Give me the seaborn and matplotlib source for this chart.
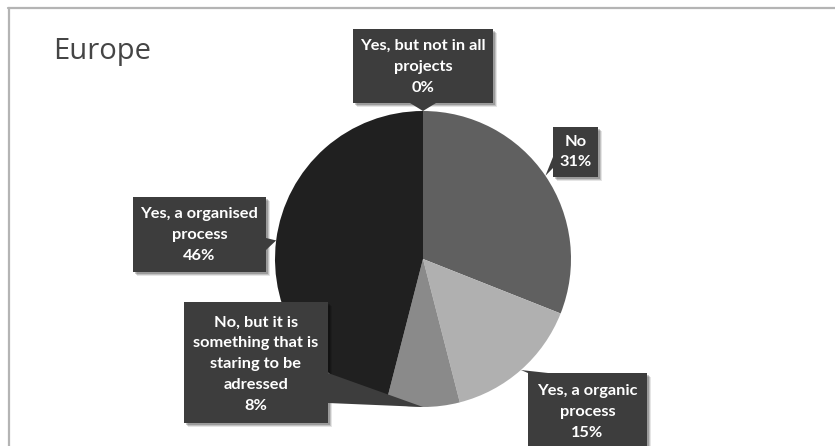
import numpy as np
import matplotlib
matplotlib.use("Agg")
import matplotlib.pyplot as plt
from matplotlib.patches import Polygon
from matplotlib.lines import Line2D
import seaborn as sns

# Survey answers, clockwise from 12 o'clock
categories = [
    "Yes, but not in all\nprojects",
    "No",
    "Yes, a organic\nprocess",
    "No, but it is\nsomething that is\nstaring to be\nadressed",
    "Yes, a organised\nprocess",
]
shares = [0, 31, 15, 8, 46]
slice_colors = ["#9a9a9a", "#606060", "#b0b0b0", "#8a8a8a", "#202020"]

sns.set_style("white")
plt.rcParams["font.family"] = ["Lato", "DejaVu Sans"]

W, H = 835, 446
fig = plt.figure(figsize=(W / 100, H / 100), dpi=100)
ax = fig.add_axes([0, 0, 1, 1])
ax.set_xlim(0, W)
ax.set_ylim(0, H)
ax.set_aspect("equal")
ax.axis("off")

cx, cy, r = 423, H - 259, 148
palette = sns.color_palette(slice_colors)
ax.pie(shares, colors=palette, startangle=90, counterclock=False,
       center=(cx, cy), radius=r, frame=False,
       wedgeprops=dict(linewidth=0))
ax.set_xlim(0, W)
ax.set_ylim(0, H)

# slice mid-angles (degrees clockwise from top) for callout tips
cum = np.cumsum(shares)
mid = 360 * (cum - np.array(shares) / 2) / 100.0


def tip(i):
    a = np.deg2rad(mid[i])
    return (cx + r * np.sin(a), cy + r * np.cos(a))


def P(x, y):
    return (x, H - y)


# callout boxes: (x0, top, x1, bottom), pointer base points, text centre y
boxes = [
    ((353, 29, 493, 103), (410, 103), (436, 103), 67),
    ((553, 127, 598, 177), (553, 157), (553, 168), 152),
    ((528, 373, 647, 470), (528, 373), (548, 373), 412),
    ((184, 302, 328, 423), (328, 373), (328, 403), 364),
    ((133, 197, 266, 272), (266, 238), (266, 250), 235),
]

box_color = "#3d3d3d"
for i, ((x0, t, x1, b), b1, b2, yc) in enumerate(boxes):
    tx, ty = tip(i)
    b1p, b2p = P(*b1), P(*b2)
    rect = [P(x0, t), P(x1, t), P(x1, b), P(x0, b)]
    # soft drop shadow
    for k, al in ((4, 0.10), (3, 0.15), (2, 0.2)):
        sh = Polygon([(px + k, py - k) for px, py in rect], closed=True,
                     facecolor="#000000", alpha=al, linewidth=0, zorder=3)
        ax.add_patch(sh)
    ax.add_patch(Polygon(rect, closed=True, facecolor=box_color,
                         linewidth=0, zorder=4))
    ax.add_patch(Polygon([b1p, (tx, ty), b2p], closed=True,
                         facecolor=box_color, linewidth=0, zorder=4))
    txt = f"{categories[i]}\n{shares[i]}%"
    ax.text((x0 + x1) / 2, H - yc, txt, ha="center", va="center",
            color="white", fontsize=11.8, fontweight="bold",
            linespacing=1.62, zorder=5)

# title
ax.text(53, H - 51, "Europe", fontsize=21, color="#454545",
        family=["Open Sans", "DejaVu Sans"], ha="left", va="center")

# chart frame
fig.add_artist(Line2D([8 / W, 1], [1 - 7.5 / H, 1 - 7.5 / H],
                      transform=fig.transFigure, color="#b4b4b4", lw=1.6))
fig.add_artist(Line2D([8.5 / W, 8.5 / W], [0, 1 - 7.5 / H],
                      transform=fig.transFigure, color="#b4b4b4", lw=1.6))

fig.savefig("out.png", dpi=100)
